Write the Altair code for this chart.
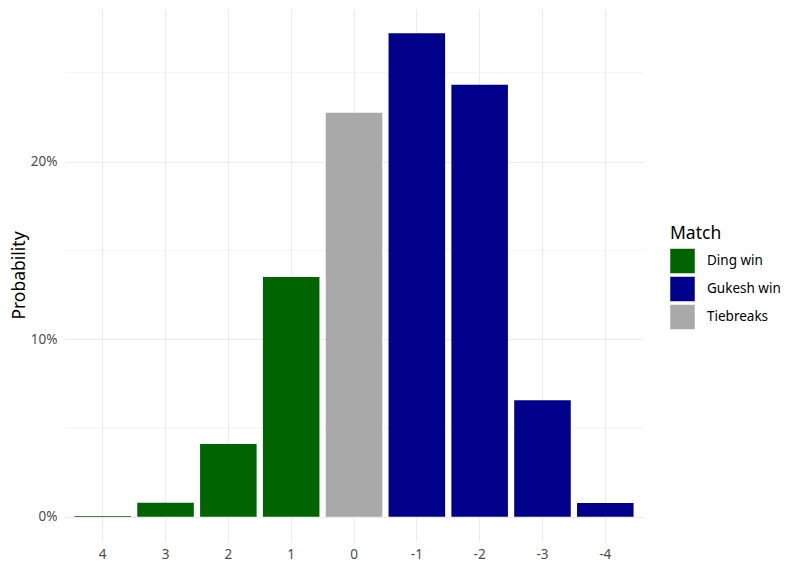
import altair as alt
import pandas as pd

# Data
diffs = ["4", "3", "2", "1", "0", "-1", "-2", "-3", "-4"]
probs = [0.0005, 0.0079, 0.041, 0.135, 0.2275, 0.2723, 0.2433, 0.0656, 0.0078]
outcomes = ["Ding win", "Ding win", "Ding win", "Ding win", "Tiebreaks",
            "Gukesh win", "Gukesh win", "Gukesh win", "Gukesh win"]
match_levels = ["Ding win", "Gukesh win", "Tiebreaks"]
match_colors = ["#006400", "#00008B", "#A9A9A9"]
major_ticks = [0, 0.1, 0.2]
minor_ticks = [0.05, 0.15, 0.25]

df = pd.DataFrame({"diff": diffs, "prob": probs, "Match": outcomes})
minor_df = pd.DataFrame({"v": minor_ticks})

FONT = "Noto Sans"
yscale = alt.Scale(domain=[-0.0136, 0.2859], nice=False, zero=False)

yaxis = alt.Axis(
    title="Probability", values=major_ticks, format=".0%", grid=True,
    gridColor="#EBEBEB", gridWidth=1.1, domain=False, ticks=False,
    labelColor="#4D4D4D", labelFontSize=13.5, labelFont=FONT, labelPadding=8,
    titleFont=FONT, titleFontSize=17.5, titleFontWeight="normal",
    titleColor="#000000", titlePadding=2,
)

minor = alt.Chart(minor_df).mark_rule(color="#EBEBEB", strokeWidth=0.6).encode(
    y=alt.Y("v:Q", scale=yscale, axis=yaxis, title="Probability")
)

bars = alt.Chart(df).mark_bar().encode(
    x=alt.X(
        "diff:N",
        sort=diffs,
        scale=alt.Scale(paddingInner=0.1, paddingOuter=0.15),
        axis=alt.Axis(
            title=None, labelAngle=0, grid=True, gridColor="#EBEBEB", gridWidth=1.1,
            domain=False, ticks=False, labelColor="#4D4D4D", labelFontSize=13.5,
            labelFont=FONT, labelPadding=6,
        ),
    ),
    y=alt.Y("prob:Q", scale=yscale, axis=yaxis, title="Probability"),
    color=alt.Color(
        "Match:N",
        scale=alt.Scale(domain=match_levels, range=match_colors),
        legend=alt.Legend(
            orient="none", legendX=605, legendY=216, title="Match",
            titleFont=FONT, titleFontSize=17.5, titleFontWeight="normal",
            titleColor="#000000", titlePadding=6,
            labelFont=FONT, labelFontSize=13.5, labelColor="#000000", labelOffset=12,
            symbolType="square", symbolSize=600, symbolStrokeWidth=0,
            symbolOpacity=1, rowPadding=3,
        ),
    ),
)

chart = alt.layer(minor, bars).properties(
    width=578,
    height=532,
    autosize=alt.AutoSizeParams(type="none"),
    padding={"left": 57, "top": 1, "right": 145, "bottom": 23},
).configure(background="white").configure_view(stroke=None)

chart.save("out.html", embed_options={"renderer": "svg", "actions": False})
